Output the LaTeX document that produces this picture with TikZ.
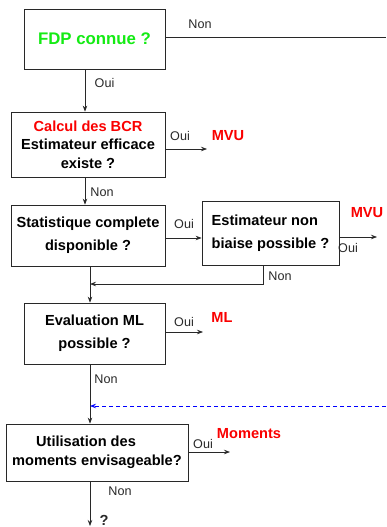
\documentclass[tikz,border=0pt]{standalone}
\usepackage{fontspec}
\setmainfont{Liberation Sans}
\usetikzlibrary{arrows.meta,calc}
\definecolor{fgreen}{RGB}{20,235,20}
\definecolor{fred}{RGB}{250,0,0}
\definecolor{lcol}{RGB}{40,40,40}
\tikzset{
  box/.style={draw=lcol,line width=0.8pt,rectangle,inner sep=0pt,align=center,font=\bfseries\fontsize{14.6}{23}\selectfont},
  arr/.style={draw=lcol,line width=0.7pt,-{Stealth[length=6pt,width=4.5pt,inset=2pt]}},
  ln/.style={draw=lcol,line width=0.7pt},
  lbl/.style={inner sep=0pt,font=\fontsize{12.6}{14}\selectfont,text=lcol},
  res/.style={inner sep=0pt,font=\bfseries\fontsize{14.6}{16}\selectfont,text=fred}
}
\begin{document}
\begin{tikzpicture}[x=1pt,y=-1pt]
\useasboundingbox (0,0) rectangle (386,527);
% boxes
\node[box,minimum width=141pt,minimum height=60pt,font=\bfseries\fontsize{16.8}{20}\selectfont,text=fgreen] (b1) at (94.5,39) {FDP connue ?};
\node[box,minimum width=154pt,minimum height=65pt,font=\bfseries\fontsize{14.6}{18.5}\selectfont] (b2) at (88,144.5) {\textcolor{fred}{Calcul des BCR}\\Estimateur efficace\\existe ?};
\node[box,minimum width=154pt,minimum height=61pt] (b3) at (88,235.5) {Statistique complete\\disponible ?};
\node[box,minimum width=137pt,minimum height=64pt,align=left] (b4) at (270.5,233) {Estimateur non\\biaise possible ?};
\node[box,minimum width=141pt,minimum height=61pt] (b5) at (94.5,333.5) {Evaluation ML\\possible ?};
\node[box,minimum width=182pt,minimum height=57pt,font=\bfseries\fontsize{14.6}{19}\selectfont] (b6) at (97,452.5) {Utilisation des\rule{22pt}{0pt}\\moments envisageable?};
% coordinates
\coordinate (xa) at (85,0);
\coordinate (xb) at (90,0);
\coordinate (rt) at (386,37.3);
\coordinate (o2) at (207,149);
\coordinate (o4) at (377,237);
\coordinate (o5) at (203,332);
\coordinate (o6) at (230,452);
\coordinate (n4a) at (263,284);
\coordinate (dsh) at (386,406);
\coordinate (bot) at (90,526);
% connectors
\draw[ln] (b1.east |- rt) -- (rt);
\draw[arr] (b1.south -| xa) -- (b2.north -| xa);
\draw[arr] (b2.east |- o2) -- (o2);
\draw[arr] (b2.south -| xa) -- (b3.north -| xa);
\draw[arr] ([yshift=-2.5pt]b3.east) -- ([yshift=-2.5pt]b3.east -| b4.west);
\draw[arr] (b4.east |- o4) -- (o4);
\draw[arr] (b4.south -| n4a) -- (n4a) -- (n4a -| xb);
\draw[arr] (b3.south -| xb) -- (b5.north -| xb);
\draw[arr] (b5.east |- o5) -- (o5);
\draw[arr] (b5.south -| xb) -- (b6.north -| xb);
\draw[arr,draw=blue,dash pattern=on 4pt off 3pt] (dsh) -- (dsh -| xb);
\draw[arr] (b6.east |- o6) -- (o6);
\draw[arr] (b6.south -| xb) -- (bot);
% labels
\node[lbl] (l1) at (200,24) {Non};
\node[lbl] (l2) at (104.5,83) {Oui};
\node[lbl] (l3) at (180,135.5) {Oui};
\node[lbl] (l4) at (102,192) {Non};
\node[lbl] (l5) at (184,224) {Oui};
\node[lbl] (l6) at (348,248) {Oui};
\node[lbl] (l7) at (280,276) {Non};
\node[lbl] (l8) at (184,322) {Oui};
\node[lbl] (l9) at (106,379) {Non};
\node[lbl] (l10) at (203,444) {Oui};
\node[lbl] (l11) at (120,491) {Non};
% results
\node[res] (r1) at (228,135.5) {MVU};
\node[res] (r2) at (367,213) {MVU};
\node[res] (r3) at (222,317) {ML};
\node[res] (r4) at (249,434) {Moments};
\node[inner sep=0pt,font=\bfseries\fontsize{14.6}{16}\selectfont,text=lcol] (q) at (104,520) {?};
\end{tikzpicture}
\end{document}
